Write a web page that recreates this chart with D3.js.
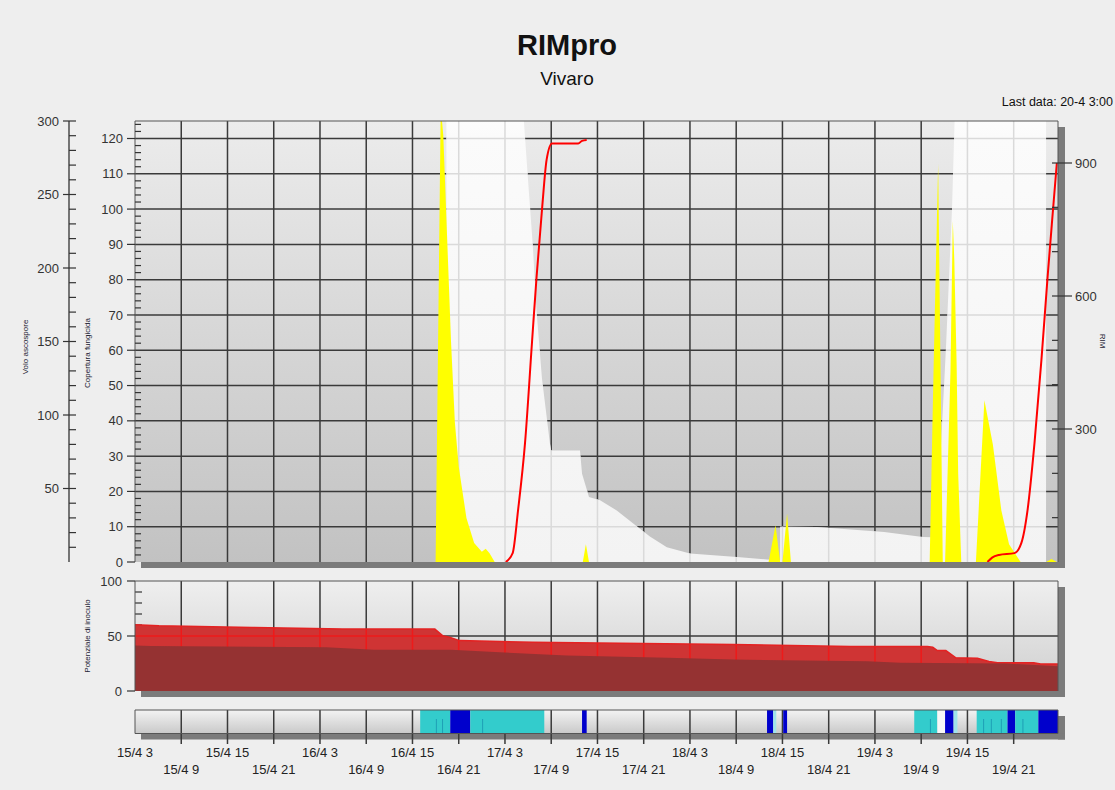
<!DOCTYPE html>
<html>
<head>
<meta charset="utf-8">
<script src="https://cdn.jsdelivr.net/npm/d3@7"></script>
<style>
  body { margin: 0; background: #ededed; }
  text { font-family: "Liberation Sans", Arial, sans-serif; }
</style>
</head>
<body>
<script>
// ---- data ----
const tickLabels = ["15/4 3","15/4 9","15/4 15","15/4 21","16/4 3","16/4 9","16/4 15","16/4 21",
  "17/4 3","17/4 9","17/4 15","17/4 21","18/4 3","18/4 9","18/4 15","18/4 21",
  "19/4 3","19/4 9","19/4 15","19/4 21"];

const covTicks = [0,10,20,30,40,50,60,70,80,90,100,110,120];
const ascTicks = [50,100,150,200,250,300];
const rimTicks = [300,600,900];
const inocTicks = [0,50,100];

// ascospore flight (yellow), left outer axis
const ascoTimes = ["16/4 18:00","16/4 18:40","16/4 19:00","16/4 19:30","16/4 20:00","16/4 20:30","16/4 21:00",
  "16/4 22:00","16/4 23:00","17/4 00:00","17/4 00:30","17/4 01:00","17/4 01:40",
  "17/4 13:06","17/4 13:30","17/4 13:54",
  "18/4 13:12","18/4 14:06","18/4 14:42","18/4 15:00","18/4 15:36","18/4 16:06",
  "19/4 10:06","19/4 10:36","19/4 11:12","19/4 11:48",
  "19/4 12:06","19/4 12:48","19/4 13:06","19/4 13:18","19/4 13:36","19/4 13:48","19/4 14:12",
  "19/4 16:06","19/4 17:12","19/4 18:18","19/4 19:24","19/4 20:24","19/4 21:54",
  "20/4 01:12","20/4 01:54","20/4 02:36"];
const ascoValues = [0,310,290,220,150,95,65,
  30,13,7,9,6,0,
  0,12,0,
  0,25,0,0,33,0,
  0,130,271,0,
  0,130,232,205,134,60,0,
  0,110,80,35,12,0,
  0,2,0];

// fungicide coverage band (white area)
const covTimes = ["16/4 19:24","16/4 19:24","17/4 05:27","17/4 05:58","17/4 06:36","17/4 07:06","17/4 07:48",
  "17/4 08:50","17/4 09:00","17/4 12:44","17/4 13:00","17/4 13:54","17/4 15:20","17/4 17:30",
  "17/4 19:36","17/4 21:48","18/4 00:00","18/4 03:00","18/4 09:06","18/4 13:00","18/4 14:42",
  "18/4 14:42","18/4 19:30","19/4 04:12","19/4 09:12","19/4 10:24","19/4 11:30","19/4 12:12",
  "19/4 13:00","19/4 13:24","20/4 01:12","20/4 01:12"];
const covValues = [0,130,125,109,90,71,52,
  33.6,31.6,31.6,25,18.4,17.5,14.6,
  11,7.2,4.2,2.4,1.4,0.7,0.5,
  10,9.9,8.5,7.1,7,30,60,
  100,130,130,0];

// RIM infection index (red), right axis
const rim1Times = ["17/4 03:06","17/4 04:00","17/4 04:42","17/4 05:36","17/4 06:30","17/4 07:06",
  "17/4 07:48","17/4 08:24","17/4 09:06","17/4 12:30","17/4 13:00","17/4 13:36"];
const rim1Values = [0,20,117,268,494,643,794,907,944,944,950,952];
const rim2Times = ["19/4 17:36","19/4 18:12","19/4 19:06","19/4 21:06","19/4 22:00","19/4 22:48",
  "19/4 23:42","20/4 00:36","20/4 01:24","20/4 02:06","20/4 02:36"];
const rim2Values = [0,10,16,20,43,117,268,456,643,794,900];

// inoculum potential (lower panel)
const inocLightTimes = ["15/4 03:00","15/4 06:06","15/4 18:12","16/4 05:54","16/4 17:54","16/4 18:54",
  "16/4 19:48","16/4 21:06","17/4 06:36","17/4 17:54","18/4 08:36","18/4 23:48","19/4 09:48",
  "19/4 10:30","19/4 11:06","19/4 12:12","19/4 13:30","19/4 16:18","19/4 17:48","19/4 18:54",
  "19/4 23:36","20/4 00:30","20/4 02:45"];
const inocLightValues = [60.2,59.3,57.8,56.3,56.3,50.3,48.8,45.8,44.3,43.4,42.2,40.4,40.4,
  39.8,36.8,36.8,30.2,29.8,26.8,25.7,25.7,24.5,24.5];
const inocDarkTimes = ["15/4 03:00","15/4 05:00","16/4 03:48","16/4 10:00","16/4 20:00","17/4 02:18",
  "17/4 11:00","18/4 00:06","18/4 08:36","19/4 02:00","19/4 06:18","19/4 20:00","20/4 02:45"];
const inocDarkValues = [41.3,40.8,39.7,37.4,37.4,35.2,32.2,30.2,28.6,27.1,25.7,25,22.5];

// wetness strip segments
const stripStarts = ["16/4 16:00","16/4 19:54","16/4 22:30","17/4 13:00","18/4 13:00","18/4 13:48",
  "18/4 15:06","19/4 08:06","19/4 11:06","19/4 12:06","19/4 13:12","19/4 16:12","19/4 20:12",
  "19/4 21:12","20/4 00:12"];
const stripEnds = ["16/4 19:54","16/4 22:30","17/4 08:06","17/4 13:36","18/4 13:48","18/4 14:12",
  "18/4 15:36","19/4 11:06","19/4 12:06","19/4 13:12","19/4 13:42","19/4 20:12","19/4 21:12",
  "20/4 00:12","20/4 02:45"];
const stripKinds = ["wet","rain","wet","rain","rain","pale","rain","wet","dry","rain","pale",
  "wet","rain","wet","rain"];
const stripMarks = ["16/4 18:06","16/4 18:54","17/4 00:06","19/4 10:12","19/4 17:06",
  "19/4 18:06","19/4 19:24","19/4 22:12"];

// ---- layout ----
const W = 1115, H = 790;
const main = {left: 135, right: 1058, top: 121, bottom: 562};
const low = {top: 581, bottom: 691};
const strip = {top: 710, bottom: 733.5};

const parse = d3.timeParse("%d/%m %H:%M");
const parseTick = d3.timeParse("%d/%m %H");
const zip = (ts, vs) => ts.map((t, i) => ({t: parse(t), v: vs[i]}));

const asco = zip(ascoTimes, ascoValues);
const cov = zip(covTimes, covValues);
const rim1 = zip(rim1Times, rim1Values);
const rim2 = zip(rim2Times, rim2Values);
const inocLight = zip(inocLightTimes, inocLightValues);
const inocDark = zip(inocDarkTimes, inocDarkValues);
const ticks = tickLabels.map(s => ({label: s, t: parseTick(s)}));

const x = d3.scaleTime()
  .domain([parse("15/4 03:00"), parse("20/4 02:45")])
  .range([main.left, main.right]);
const yCov = d3.scaleLinear().domain([0, 120]).range([main.bottom, 138.5]);
const yAsc = d3.scaleLinear().domain([0, 300]).range([main.bottom, main.top]);
const yRim = d3.scaleLinear().domain([0, 900]).range([main.bottom, 163]);
const yInoc = d3.scaleLinear().domain([0, 100]).range([low.bottom, low.top]);

const svg = d3.select("body").append("svg")
  .attr("width", W).attr("height", H);

const defs = svg.append("defs");
function vGrad(id, stops) {
  const g = defs.append("linearGradient").attr("id", id)
    .attr("x1", 0).attr("y1", 0).attr("x2", 0).attr("y2", 1);
  stops.forEach(s => g.append("stop").attr("offset", s[0]).attr("stop-color", s[1]));
}
vGrad("mainBg", [[0, "#ececec"], [0.5, "#d6d6d6"], [1, "#c2c2c2"]]);
vGrad("whiteBg", [[0, "#ffffff"], [0.07, "#fbfbfb"], [1, "#f3f3f3"]]);
vGrad("lowBg", [[0, "#efefef"], [1, "#cfcfcf"]]);
vGrad("stripBg", [[0, "#f3f3f3"], [1, "#c9c9c9"]]);

defs.append("clipPath").attr("id", "mainClip").append("rect")
  .attr("x", main.left).attr("y", main.top)
  .attr("width", main.right - main.left).attr("height", main.bottom - main.top);

const covArea = d3.area()
  .x(d => x(d.t)).y0(yCov(0)).y1(d => yCov(Math.min(d.v, 130)));
defs.append("clipPath").attr("id", "whiteClip").append("path")
  .attr("d", covArea(cov));

const inocArea = d3.area()
  .x(d => x(d.t)).y0(yInoc(0)).y1(d => yInoc(d.v));
defs.append("clipPath").attr("id", "redClip").append("path")
  .attr("d", inocArea(inocLight));

// background
svg.append("rect").attr("width", W).attr("height", H).attr("fill", "#eeeeee");

// title
svg.append("text").attr("x", 567).attr("y", 55).attr("text-anchor", "middle")
  .style("font-size", "29px").style("font-weight", "bold").attr("fill", "#111").text("RIMpro");
svg.append("text").attr("x", 567).attr("y", 85).attr("text-anchor", "middle")
  .style("font-size", "19px").attr("fill", "#111").text("Vivaro");
svg.append("text").attr("x", 1113).attr("y", 106).attr("text-anchor", "end")
  .style("font-size", "12.5px").attr("fill", "#111").text("Last data: 20-4 3:00");

const shadow = "#7b7b7b";
function panelShadow(top, bottom) {
  svg.append("rect").attr("x", main.right).attr("y", top + 6)
    .attr("width", 7).attr("height", bottom - top).attr("fill", shadow);
  svg.append("rect").attr("x", main.left + 6).attr("y", bottom)
    .attr("width", main.right - main.left + 1).attr("height", 6).attr("fill", shadow);
}

// ================= main panel =================
panelShadow(main.top, main.bottom);
svg.append("rect").attr("x", main.left).attr("y", main.top)
  .attr("width", main.right - main.left).attr("height", main.bottom - main.top)
  .attr("fill", "url(#mainBg)");

function drawGrid(g, color, width) {
  g.selectAll(".h").data(covTicks.slice(1)).join("line")
    .attr("x1", main.left).attr("x2", main.right)
    .attr("y1", d => yCov(d)).attr("y2", d => yCov(d))
    .attr("stroke", color).attr("stroke-width", width);
  g.selectAll(".v").data(ticks.slice(1)).join("line")
    .attr("x1", d => x(d.t)).attr("x2", d => x(d.t))
    .attr("y1", main.top).attr("y2", main.bottom)
    .attr("stroke", color).attr("stroke-width", width);
}
drawGrid(svg.append("g"), "#3a3a3a", 1.5);

const mainG = svg.append("g").attr("clip-path", "url(#mainClip)");
mainG.append("path").attr("d", covArea(cov)).attr("fill", "url(#whiteBg)");
drawGrid(mainG.append("g").attr("clip-path", "url(#whiteClip)"), "#dadada", 1.5);

mainG.append("path")
  .attr("d", d3.area().x(d => x(d.t)).y0(yAsc(0)).y1(d => yAsc(d.v))(asco))
  .attr("fill", "#ffff00");

const rimLine = d3.line().x(d => x(d.t)).y(d => yRim(d.v)).curve(d3.curveMonotoneX);
[rim1, rim2].forEach(s => mainG.append("path").attr("d", rimLine(s))
  .attr("fill", "none").attr("stroke", "#ff0000").attr("stroke-width", 2));

// border
svg.append("path")
  .attr("d", `M${main.left},${main.bottom}V${main.top}H${main.right}V${main.bottom}`)
  .attr("fill", "none").attr("stroke", "#555").attr("stroke-width", 1);

// outer left axis: Volo ascospore
const axC = "#333";
svg.append("line").attr("x1", 69).attr("x2", 69).attr("y1", yAsc(300)).attr("y2", yAsc(0))
  .attr("stroke", axC).attr("stroke-width", 1.3);
svg.append("g").selectAll("line").data(d3.range(10, 300, 10).filter(v => v % 50 !== 0)).join("line")
  .attr("x1", 69).attr("x2", 76).attr("y1", d => yAsc(d)).attr("y2", d => yAsc(d))
  .attr("stroke", axC).attr("stroke-width", 1.2);
svg.append("g").selectAll("line").data(ascTicks).join("line")
  .attr("x1", 63).attr("x2", 76).attr("y1", d => yAsc(d)).attr("y2", d => yAsc(d))
  .attr("stroke", axC).attr("stroke-width", 1.2);
svg.append("g").selectAll("text").data(ascTicks).join("text")
  .attr("x", 59).attr("y", d => yAsc(d)).attr("dy", "0.35em").attr("text-anchor", "end")
  .style("font-size", "13px").attr("fill", axC).text(d => d);

// inner left axis: Copertura fungicida
svg.append("g").selectAll("line").data(d3.range(0, 125, 2).filter(v => v % 10 !== 0)).join("line")
  .attr("x1", main.left).attr("x2", main.left + 6).attr("y1", d => yCov(d)).attr("y2", d => yCov(d))
  .attr("stroke", "#333").attr("stroke-width", 1.2);
svg.append("g").selectAll("line").data(covTicks).join("line")
  .attr("x1", 127).attr("x2", main.left).attr("y1", d => yCov(d)).attr("y2", d => yCov(d))
  .attr("stroke", axC).attr("stroke-width", 1.2);
svg.append("g").selectAll("text").data(covTicks).join("text")
  .attr("x", 123).attr("y", d => yCov(d)).attr("dy", "0.35em").attr("text-anchor", "end")
  .style("font-size", "13px").attr("fill", axC).text(d => d);

// right axis: RIM
svg.append("g").selectAll("line").data(d3.range(100, 1000, 100).filter(v => v % 300 !== 0)).join("line")
  .attr("x1", main.right - 6).attr("x2", main.right).attr("y1", d => yRim(d)).attr("y2", d => yRim(d))
  .attr("stroke", "#333").attr("stroke-width", 1.2);
svg.append("g").selectAll("line").data(rimTicks).join("line")
  .attr("x1", main.right - 6).attr("x2", 1072).attr("y1", d => yRim(d)).attr("y2", d => yRim(d))
  .attr("stroke", axC).attr("stroke-width", 1.2);
svg.append("g").selectAll("text").data(rimTicks).join("text")
  .attr("x", 1075).attr("y", d => yRim(d)).attr("dy", "0.35em")
  .style("font-size", "13px").attr("fill", axC).text(d => d);

// axis titles
function vTitle(xp, yp, rot, s) {
  svg.append("text").attr("transform", `translate(${xp},${yp}) rotate(${rot})`)
    .attr("text-anchor", "middle").style("font-size", "8px").attr("fill", "#223").text(s);
}
vTitle(28, 347, -90, "Volo ascospore");
vTitle(90, 353, -90, "Copertura fungicida");
vTitle(1100, 341, 90, "RIM");
vTitle(90, 636, -90, "Potenziale di inoculo");

// ================= lower panel: inoculum =================
panelShadow(low.top, low.bottom);
svg.append("rect").attr("x", main.left).attr("y", low.top)
  .attr("width", main.right - main.left).attr("height", low.bottom - low.top)
  .attr("fill", "url(#lowBg)");
svg.append("g").selectAll("line").data(d3.range(10, 100, 10).filter(v => v !== 50)).join("line")
  .attr("x1", main.left).attr("x2", main.left + 7).attr("y1", d => yInoc(d)).attr("y2", d => yInoc(d))
  .attr("stroke", "#333").attr("stroke-width", 1.2);

function lowGrid(g, color) {
  g.selectAll(".v").data(ticks.slice(1)).join("line")
    .attr("x1", d => x(d.t)).attr("x2", d => x(d.t))
    .attr("y1", low.top).attr("y2", low.bottom)
    .attr("stroke", color).attr("stroke-width", 1.5);
  g.append("line").attr("x1", main.left).attr("x2", main.right)
    .attr("y1", yInoc(50)).attr("y2", yInoc(50))
    .attr("stroke", color).attr("stroke-width", 1.5);
}
lowGrid(svg.append("g"), "#3a3a3a");

svg.append("path").attr("d", inocArea(inocLight)).attr("fill", "#cf3434");
lowGrid(svg.append("g").attr("clip-path", "url(#redClip)"), "#ee1a1a");
svg.append("path")
  .attr("d", d3.line().x(d => x(d.t)).y(d => yInoc(d.v))(inocLight))
  .attr("fill", "none").attr("stroke", "#e42222").attr("stroke-width", 1.5);
svg.append("path").attr("d", inocArea(inocDark)).attr("fill", "#953232");

svg.append("path")
  .attr("d", `M${main.left},${low.bottom}V${low.top}H${main.right}V${low.bottom}`)
  .attr("fill", "none").attr("stroke", "#555").attr("stroke-width", 1);
svg.append("g").selectAll("line").data(inocTicks).join("line")
  .attr("x1", 127).attr("x2", main.left).attr("y1", d => yInoc(d)).attr("y2", d => yInoc(d))
  .attr("stroke", axC).attr("stroke-width", 1.2);
svg.append("g").selectAll("text").data(inocTicks).join("text")
  .attr("x", 122).attr("y", d => yInoc(d)).attr("dy", "0.35em").attr("text-anchor", "end")
  .style("font-size", "13px").attr("fill", axC).text(d => d);

// ================= wetness strip =================
panelShadow(strip.top, strip.bottom);
svg.append("rect").attr("x", main.left).attr("y", strip.top)
  .attr("width", main.right - main.left).attr("height", strip.bottom - strip.top)
  .attr("fill", "url(#stripBg)");
svg.append("g").selectAll("line").data(ticks.slice(1)).join("line")
  .attr("x1", d => x(d.t)).attr("x2", d => x(d.t))
  .attr("y1", strip.top).attr("y2", 744)
  .attr("stroke", "#3a3a3a").attr("stroke-width", 1.5);

const kindColor = {wet: "#33cccc", rain: "#0000cc", pale: "#9fe3ea", dry: "#f7f7f7"};
svg.append("g").selectAll("rect").data(stripKinds).join("rect")
  .attr("x", (d, i) => x(parse(stripStarts[i])))
  .attr("width", (d, i) => x(parse(stripEnds[i])) - x(parse(stripStarts[i])))
  .attr("y", strip.top).attr("height", strip.bottom - strip.top)
  .attr("fill", d => kindColor[d]);
svg.append("g").selectAll("line").data(stripMarks).join("line")
  .attr("x1", d => x(parse(d))).attr("x2", d => x(parse(d)))
  .attr("y1", strip.top + 9).attr("y2", strip.bottom)
  .attr("stroke", "#1f9fb5").attr("stroke-width", 1);
svg.append("path")
  .attr("d", `M${main.left},${strip.bottom}V${strip.top}H${main.right}V${strip.bottom}H${main.left}`)
  .attr("fill", "none").attr("stroke", "#555").attr("stroke-width", 1);

// time labels, two staggered rows
svg.append("g").selectAll("text").data(ticks).join("text")
  .attr("x", d => x(d.t))
  .attr("y", (d, i) => i % 2 === 0 ? 757 : 774)
  .attr("text-anchor", "middle")
  .style("font-size", "13px").attr("fill", "#222").text(d => d.label);
</script>
</body>
</html>
